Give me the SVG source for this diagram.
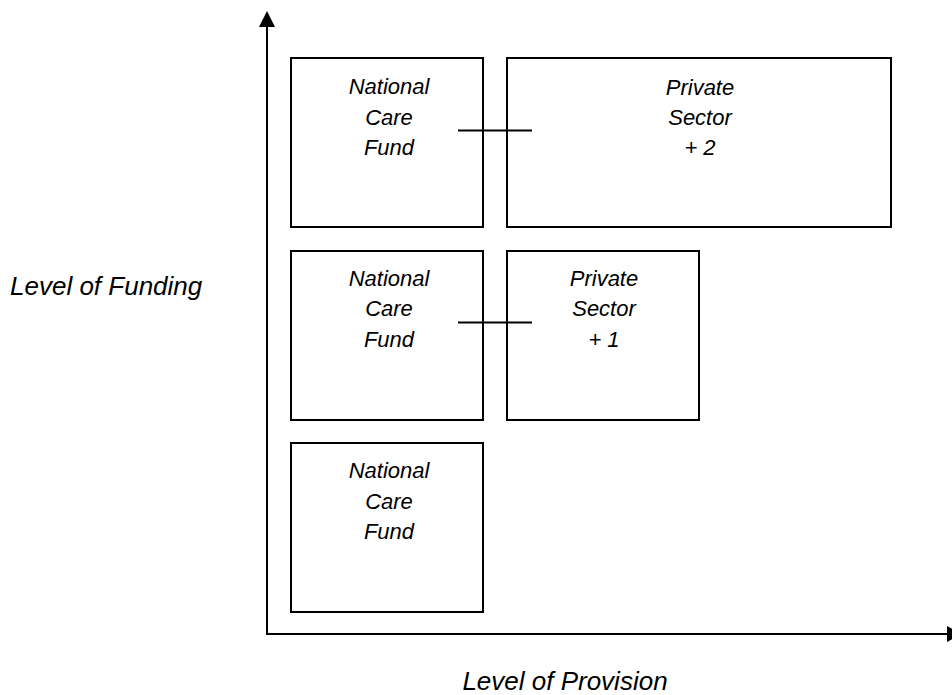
<svg xmlns="http://www.w3.org/2000/svg" width="952" height="695" viewBox="0 0 952 695">
<style>
.box{fill:#fff;stroke:#000;stroke-width:2}
.t{font-family:"Liberation Sans",Arial,sans-serif;font-style:italic;font-size:22px;fill:#000;text-anchor:middle}
.lab{font-family:"Liberation Sans",Arial,sans-serif;font-style:italic;font-size:26px;fill:#000}
.ax{stroke:#000;stroke-width:2;fill:none}
.ln{stroke:#000;stroke-width:1.8}
</style>
<rect width="952" height="695" fill="#fff"/>
<g id="axes">
<line class="ax" x1="267" y1="634" x2="267" y2="24"/>
<polygon points="267,11 259,27 275,27" fill="#000"/>
<line class="ax" x1="266" y1="634" x2="950" y2="634"/>
<polygon points="962,634 947,626 947,642" fill="#000"/>
</g>
<g id="ncf3"><rect class="box" x="291" y="58" width="192" height="169"/>
<text class="t" x="389" y="94">National</text><text class="t" x="389" y="125">Care</text><text class="t" x="389" y="155">Fund</text></g>
<g id="ps2"><rect class="box" x="507" y="58" width="384" height="169"/>
<text class="t" x="700" y="95">Private</text><text class="t" x="700" y="125">Sector</text><text class="t" x="700" y="155">+ 2</text></g>
<g id="ncf2"><rect class="box" x="291" y="251" width="192" height="169"/>
<text class="t" x="389" y="286">National</text><text class="t" x="389" y="316">Care</text><text class="t" x="389" y="347">Fund</text></g>
<g id="ps1"><rect class="box" x="507" y="251" width="192" height="169"/>
<text class="t" x="604" y="286">Private</text><text class="t" x="604" y="316">Sector</text><text class="t" x="604" y="347">+ 1</text></g>
<g id="ncf1"><rect class="box" x="291" y="443" width="192" height="169"/>
<text class="t" x="389" y="478">National</text><text class="t" x="389" y="509">Care</text><text class="t" x="389" y="539">Fund</text></g>
<g id="connectors">
<line class="ln" x1="458" y1="130.5" x2="532" y2="130.5"/>
<line class="ln" x1="458" y1="322.5" x2="532" y2="322.5"/>
</g>
<g id="labels">
<text class="lab" x="10" y="295">Level of Funding</text>
<text class="lab" x="565" y="690" text-anchor="middle">Level of Provision</text>
</g>
</svg>
